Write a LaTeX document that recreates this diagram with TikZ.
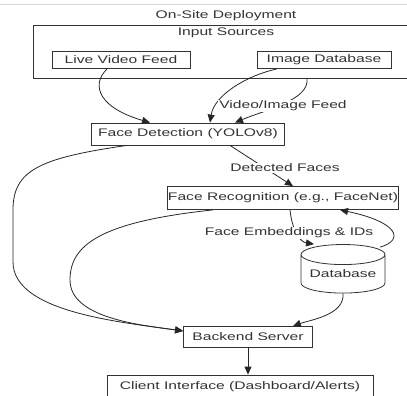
\documentclass[tikz,border=0pt]{standalone}
\usepackage{fontspec}
\setmainfont[FakeStretch=1.42]{Liberation Sans}
\usetikzlibrary{arrows.meta,shapes.geometric}
\begin{document}
\begin{tikzpicture}[x=1pt,y=-1pt,
    every node/.append style={font=\fontsize{11}{13}\selectfont, text=black!80},
    box/.style={draw=black!80, line width=0.8pt, inner sep=0pt},
    edge/.style={draw=black!85, line width=0.8pt, -{Triangle[length=8pt,width=7pt]}},
    lbl/.style={fill=white, inner sep=1pt}]
    \useasboundingbox (0,0) rectangle (407,396);
    \draw[black!15] (0,4) -- (407,4);
    % clusters
    \node (site) at (226,16) {On-Site Deployment};
    \node[box, minimum width=377pt, minimum height=53pt] (inputs) at (221.5,51.5) {};
    \node (inlbl) at (226,33) {Input Sources};
    % nodes
    \node[box, minimum width=138pt, minimum height=17pt] (live) at (121,60) {Live Video Feed};
    \node[box, minimum width=134pt, minimum height=17pt] (imgdb) at (324,60) {Image Database};
    \node[box, minimum width=193pt, minimum height=22pt] (detect) at (188,134) {Face Detection (YOLOv8)};
    \node[box, minimum width=231pt, minimum height=23pt] (recog) at (283,198) {Face Recognition (e.g., FaceNet)};
    \node[box, cylinder, shape border rotate=90, aspect=0.3, inner ysep=5pt,
          minimum width=84pt] (db) at (343,274) {Database};
    \node[box, minimum width=129pt, minimum height=21pt] (backend) at (248,337) {Backend Server};
    \node[box, minimum width=266pt, minimum height=23pt] (client) at (240,386.5) {Client Interface (Dashboard/Alerts)};
    % edges
    \draw[edge] ([xshift=-14pt]live.south) .. controls (90,86) and (100,108) .. ([xshift=-38pt]detect.north);
    \draw[edge] ([xshift=-47pt]imgdb.south) .. controls (245,76) and (214,96) .. ([xshift=22pt]detect.north);
    \draw[edge] ([xshift=85.5pt]inputs.south) .. controls (310,100) and (265,110) .. ([xshift=47pt]detect.north);
    \node[lbl] (feedlbl) at (283,106) {Video/Image Feed};
    \draw[edge] ([xshift=42pt]detect.south) -- ([xshift=10pt]recog.north);
    \node[lbl] (detlbl) at (285,168) {Detected Faces};
    \draw[edge] ([xshift=7pt]recog.south) .. controls (292,230) and (300,242) .. ([xshift=-29pt]db.north);
    \node[lbl] (emblbl) at (289,233) {Face Embeddings \& IDs};
    \draw[edge] ([xshift=37pt,yshift=-3pt]db.north) .. controls (405,240) and (398,222) .. ([xshift=57pt]recog.south);
    \draw[edge] ([xshift=-61pt]detect.south) .. controls (40,158) and (13,170) .. (13,210)
        -- (13,262) .. controls (13,312) and (120,322) .. ([yshift=6pt]backend.west);
    \draw[edge] ([xshift=-70pt]recog.south) .. controls (100,222) and (70,245) .. (70,280)
        .. controls (70,318) and (140,325) .. ([yshift=6pt]backend.west);
    \draw[edge] (db.south) .. controls (345,315) and (310,320) .. ([xshift=-20pt]backend.north east);
    \draw[edge] (backend.south) -- (backend.south |- client.north);
\end{tikzpicture}
\end{document}
